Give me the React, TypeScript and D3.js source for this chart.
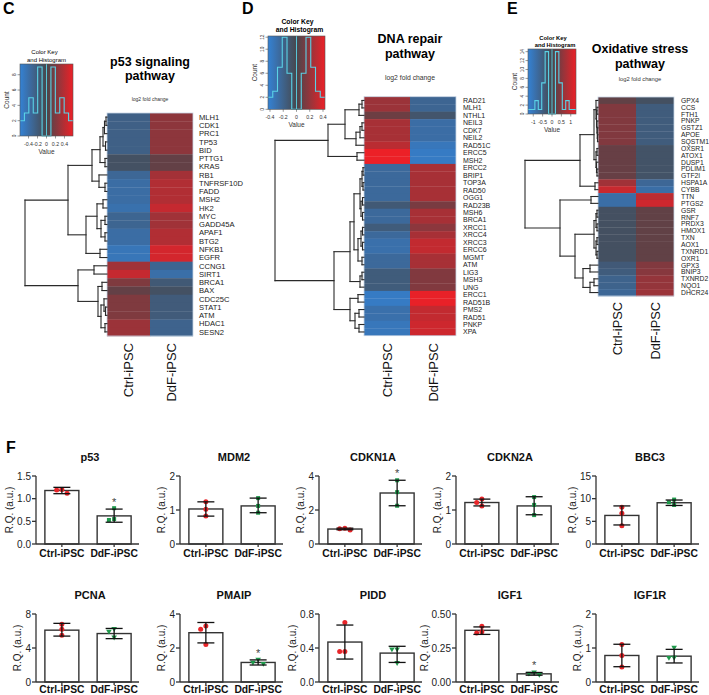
import React from "react";
import * as d3 from "d3";

type Tree = string | [number, Tree, Tree];
const FONT = "'Liberation Sans', Arial, Helvetica, sans-serif";
const BLUE = "#3482d4";
const MID = "#47474c";
const RED = "#ec2027";
const CYAN = "#5ad2e6";

// ---------------- Panel C: p53 signaling ----------------
const genesC = ["MLH1","CDK1","PRC1","TP53","BID","PTTG1","KRAS","RB1","TNFRSF10D","FADD","MSH2","HK2","MYC","GADD45A","APAF1","BTG2","NFKB1","EGFR","CCNG1","SIRT1","BRCA1","BAX","CDC25C","STAT1","ATM","HDAC1","SESN2"];
const ctrlC = [-0.25,-0.25,-0.25,-0.25,-0.25,-0.1,-0.1,-0.32,-0.38,-0.38,-0.38,-0.42,-0.3,-0.3,-0.38,-0.38,-0.47,-0.47,0.32,0.45,0.2,0.1,0.2,0.2,0.2,0.3,0.3];
const ddfC = [0.25,0.25,0.25,0.25,0.25,0.1,0.1,0.33,0.38,0.38,0.38,0.45,0.32,0.32,0.38,0.38,0.5,0.5,-0.3,-0.4,-0.18,-0.1,-0.2,-0.2,-0.2,-0.28,-0.28];
const treeC: Tree = [82,
  [39,
    [15,
      [7, [4, [2.5, [1, "MLH1", "CDK1"], "PRC1"], [1.5, "TP53", "BID"]], [2, "PTTG1", "KRAS"]],
      [8, "RB1", [2, "TNFRSF10D", "FADD"]]],
    [21,
      [10, [4, "MSH2", "HK2"], [6, [2, "MYC", "GADD45A"], [2, "APAF1", "BTG2"]]],
      [7, "NFKB1", "EGFR"]]],
  [29,
    [13, "CCNG1", "SIRT1"],
    [9, [5, "BRCA1", "BAX"], [6, [3, "CDC25C", [1.5, "STAT1", "ATM"]], [2, "HDAC1", "SESN2"]]]]];
const histC = [2,3,5,3,9,0,0,9,3,5,3,2];
const keyDomC = [-0.59, 0.59];
const keyTicksC = [-0.4,-0.2,0,0.2,0.4];
const countTicksC = [0,2,4,6,8];
const countMaxC = 9.4;

// ---------------- Panel D: DNA repair ----------------
const genesD = ["RAD21","MLH1","NTHL1","NEIL3","CDK7","NEIL2","RAD51C","ERCC5","MSH2","ERCC2","BRIP1","TOP3A","RAD50","OGG1","RAD23B","MSH6","BRCA1","XRCC1","XRCC4","XRCC3","ERCC6","MGMT","ATM","LIG3","MSH3","UNG","ERCC1","RAD51B","PMS2","RAD51","PNKP","XPA"];
const ctrlD = [0.22,0.22,0.1,0.25,0.25,0.25,0.3,0.43,0.43,-0.25,-0.25,-0.25,-0.25,-0.25,-0.13,-0.25,-0.25,-0.15,-0.25,-0.3,-0.3,-0.25,-0.25,-0.15,-0.15,-0.15,-0.38,-0.38,-0.3,-0.3,-0.35,-0.35];
const ddfD = [-0.22,-0.22,-0.1,-0.28,-0.28,-0.28,-0.35,-0.38,-0.38,0.25,0.25,0.25,0.25,0.25,0.13,0.25,0.25,0.18,0.25,0.32,0.32,0.25,0.25,0.15,0.15,0.15,0.42,0.42,0.32,0.32,0.35,0.35];
const treeD: Tree = [89,
  [36,
    [19, [5, [2, "RAD21", "MLH1"], "NTHL1"], [8, [4, [2, "NEIL3", "CDK7"], "NEIL2"], "RAD51C"]],
    [7, "ERCC5", "MSH2"]],
  [30,
    [14,
      [10,
        [4, [2, [1, "ERCC2", "BRIP1"], [1, "TOP3A", "RAD50"]], [3, [1.5, "OGG1", "RAD23B"], [1.5, "MSH6", "BRCA1"]]],
        [6, [3, [1.5, "XRCC1", "XRCC4"], [1.5, "XRCC3", "ERCC6"]], [2, "MGMT", "ATM"]]],
      [4, [2, "LIG3", "MSH3"], "UNG"]],
    [14,
      [6, "ERCC1", "RAD51B"],
      [9, [5, "PMS2", "RAD51"], [5, "PNKP", "XPA"]]]]];
const histD = [2,3,7,12,6,0,0,6,12,7,3,2];
const keyDomD = [-0.43, 0.43];
const keyTicksD = [-0.4,-0.2,0,0.2,0.4];
const countTicksD = [0,2,4,6,8,10,12];
const countMaxD = 12.2;

// ---------------- Panel E: Oxidative stress ----------------
const genesE = ["GPX4","CCS","FTH1","PNKP","GSTZ1","APOE","SQSTM1","OXSR1","ATOX1","DUSP1","PDLIM1","GTF2I","HSPA1A","CYBB","TTN","PTGS2","GSR","RNF7","PRDX3","HMOX1","TXN","AOX1","TXNRD1","OXR1","GPX3","BNIP3","TXNRD2","NQO1","DHCR24"];
const ctrlE = [0.2,0.45,0.45,0.45,0.45,0.45,0.45,0.25,0.25,0.25,0.25,0.25,0.7,1.0,-0.85,-0.85,-0.2,-0.2,-0.2,-0.2,-0.2,-0.2,-0.2,-0.2,-0.4,-0.45,-0.6,-0.6,-0.7];
const ddfE = [-0.2,-0.45,-0.45,-0.45,-0.45,-0.45,-0.45,-0.25,-0.25,-0.25,-0.25,-0.25,-0.7,-0.85,0.9,1.05,0.2,0.2,0.2,0.2,0.2,0.2,0.2,0.2,0.45,0.5,0.6,0.6,0.65];
const treeE: Tree = [73,
  [18,
    [4, [2, "GPX4", [1.5, [1, "CCS", "FTH1"], [1, "PNKP", [0.7, "GSTZ1", [0.5, "APOE", "SQSTM1"]]]]],
        [2, [1, "OXSR1", "ATOX1"], [1.5, "DUSP1", [1, "PDLIM1", "GTF2I"]]]],
    [3, "HSPA1A", "CYBB"]],
  [38,
    [7, "TTN", "PTGS2"],
    [23,
      [4, [2, [1, "GSR", "RNF7"], [1, "PRDX3", "HMOX1"]], [2, [1, "TXN", "AOX1"], [1, "TXNRD1", "OXR1"]]],
      [15, [8, "GPX3", "BNIP3"], [8, [4, "TXNRD2", "NQO1"], "DHCR24"]]]]];
const histE = [1,1,3,1,7,14,0,0,14,7,1,3,1,1];
const keyDomE = [-1.28, 1.28];
const keyTicksE = [-1,-0.5,0,0.5,1];
const countTicksE = [0,2,4,6,8,10,12,14];
const countMaxE = 14.6;

const sampleNames = ["Ctrl-iPSC", "DdF-iPSC"];

// ---------------- Panel F: qPCR bars ----------------
const barGenes = ["p53","MDM2","CDKN1A","CDKN2A","BBC3","PCNA","PMAIP","PIDD","IGF1","IGF1R"];
const ctrlMean = [1.18,1.03,0.88,1.22,6.3,6.1,2.9,0.47,0.38,0.78];
const ctrlLo = [1.11,0.82,0.84,1.12,4.2,5.4,2.3,0.27,0.35,0.45];
const ctrlHi = [1.25,1.24,0.93,1.32,8.4,6.9,3.5,0.67,0.405,1.11];
const ddfMean = [0.62,1.12,3.0,1.12,9.1,5.7,1.15,0.34,0.06,0.76];
const ddfLo = [0.48,0.92,2.25,0.86,8.5,5.1,1.0,0.23,0.05,0.56];
const ddfHi = [0.77,1.35,3.75,1.39,9.7,6.3,1.3,0.42,0.07,0.96];
const ctrlPts = [[1.12,1.2,1.19],[0.82,1.02,1.24],[0.83,0.9,0.93],[1.12,1.22,1.32],[4.0,6.8,8.1],[5.5,6.2,6.8],[2.2,3.1,3.3],[0.36,0.36,0.7],[0.36,0.37,0.41],[0.44,0.78,1.1]];
const ddfPts = [[0.53,0.55,0.79],[0.92,1.12,1.35],[2.25,3.05,3.75],[0.85,1.15,1.38],[8.6,9.2,9.8],[5.2,5.9,6.2],[1.05,1.12,1.3],[0.22,0.38,0.38],[0.05,0.06,0.068],[0.7,0.71,1.0]];
const yMax = [1.5,2,4,2,15,8,4,0.8,0.5,2];
const yTicks = [[0,0.5,1,1.5],[0,1,2],[0,2,4],[0,1,2],[0,5,10,15],[0,4,8],[0,2,4],[0,0.4,0.8],[0,0.25,0.5],[0,1,2]];
const yDigits = [1,0,0,0,0,0,0,1,2,0];
const signif = [true,false,true,false,false,false,true,false,true,false];

type HeatCfg = {
  letter: string; letterX: number;
  key: { x: number; y: number; w: number; h: number };
  keyTitleY: [number, number]; keyTitleBold: boolean; keyTitleSize: number; keyTitleDx: number;
  title: [string, string]; titleX: number; titleY: [number, number];
  subY: number; subSize: number;
  hm: { x: number; y: number; w: number; h: number };
  labelX: number; labelSize: number; rootX: number; colLabelY: number; colLabelSize: number;
};

function HeatPanel(props: {
  cfg: HeatCfg; genes: string[]; ctrl: number[]; ddf: number[]; tree: Tree;
  hist: number[]; keyDom: number[]; keyTicks: number[]; countTicks: number[]; countMax: number;
}) {
  const { cfg, genes, ctrl, ddf, tree, hist, keyDom, keyTicks, countTicks, countMax } = props;
  const m = keyDom[1];
  const color = d3.scaleLinear<string>().domain([-m, 0, m]).range([BLUE, MID, RED]).clamp(true);
  const { hm, key } = cfg;
  const yBand = d3.scaleBand<string>().domain(genes).range([hm.y, hm.y + hm.h]);
  const xBand = d3.scaleBand<string>().domain(sampleNames).range([hm.x, hm.x + hm.w]);
  const rootH = typeof tree === "string" ? 1 : tree[0];
  const hx = d3.scaleLinear().domain([0, rootH]).range([hm.x, cfg.rootX]);
  const segs: [number, number, number, number][] = [];
  const walk = (t: Tree): { y: number; h: number } => {
    if (typeof t === "string") return { y: (yBand(t) as number) + yBand.bandwidth() / 2, h: 0 };
    const a = walk(t[1]);
    const b = walk(t[2]);
    const x = hx(t[0]);
    segs.push([x, a.y, x, b.y]);
    segs.push([x, a.y, hx(a.h), a.y]);
    segs.push([x, b.y, hx(b.h), b.y]);
    return { y: (a.y + b.y) / 2, h: t[0] };
  };
  walk(tree);

  const kx = d3.scaleLinear().domain(keyDom).range([key.x, key.x + key.w]);
  const ky = d3.scaleLinear().domain([0, countMax]).range([key.y + key.h, key.y]);
  const bw = (keyDom[1] - keyDom[0]) / hist.length;
  let hp = "";
  hist.forEach((c, i) => {
    const x0 = kx(keyDom[0] + i * bw), x1 = kx(keyDom[0] + (i + 1) * bw);
    hp += (i === 0 ? `M${x0},${ky(c)}` : `V${ky(c)}`) + `H${x1}`;
  });
  const gid = "grad" + cfg.letter;
  const stops = d3.range(0, 1.0001, 0.05);
  return (
    <g fontFamily={FONT}>
      <text x={cfg.letterX} y={14} fontSize={16} fontWeight="bold">{cfg.letter}</text>
      <defs>
        <linearGradient id={gid} x1="0" x2="1" y1="0" y2="0">
          {stops.map((s, i) => (
            <stop key={i} offset={s} stopColor={color(keyDom[0] + s * (keyDom[1] - keyDom[0]))} />
          ))}
        </linearGradient>
      </defs>
      {/* color key */}
      <text x={key.x + key.w / 2 + cfg.keyTitleDx - 2} y={cfg.keyTitleY[0]} fontSize={cfg.keyTitleSize} textAnchor="middle" fontWeight={cfg.keyTitleBold ? "bold" : "normal"}>Color Key</text>
      <text x={key.x + key.w / 2 + cfg.keyTitleDx} y={cfg.keyTitleY[1]} fontSize={cfg.keyTitleSize} textAnchor="middle" fontWeight={cfg.keyTitleBold ? "bold" : "normal"}>and Histogram</text>
      <rect x={key.x} y={key.y} width={key.w} height={key.h} fill={`url(#${gid})`} />
      <path d={hp} fill="none" stroke={CYAN} strokeWidth={1.1} />
      <line x1={kx(0)} x2={kx(0)} y1={key.y} y2={key.y + key.h} stroke={CYAN} strokeWidth={0.9} />
      <rect x={key.x} y={key.y} width={key.w} height={key.h} fill="none" stroke="#555" strokeWidth={0.6} />
      {countTicks.map((c) => (
        <g key={c}>
          <line x1={key.x} x2={key.x - 2.5} y1={ky(c)} y2={ky(c)} stroke="#333" strokeWidth={0.5} />
          <text transform={`translate(${key.x - 4.5},${ky(c)}) rotate(-90)`} fontSize={4.8} textAnchor="middle" fill="#333">{c}</text>
        </g>
      ))}
      <text transform={`translate(${key.x - 11.5},${key.y + key.h / 2}) rotate(-90)`} fontSize={6.5} textAnchor="middle" fill="#333">Count</text>
      {keyTicks.map((v) => (
        <g key={v}>
          <line x1={kx(v)} x2={kx(v)} y1={key.y + key.h} y2={key.y + key.h + 2.5} stroke="#333" strokeWidth={0.5} />
          <text x={kx(v)} y={key.y + key.h + 9.5} fontSize={5.2} textAnchor="middle" fill="#333">{v}</text>
        </g>
      ))}
      <text x={key.x + key.w / 2} y={key.y + key.h + 18} fontSize={6.5} textAnchor="middle" fill="#333">Value</text>
      {/* title */}
      <text x={cfg.titleX} y={cfg.titleY[0]} fontSize={12.5} fontWeight="bold" textAnchor="middle">{cfg.title[0]}</text>
      <text x={cfg.titleX} y={cfg.titleY[1]} fontSize={12.5} fontWeight="bold" textAnchor="middle">{cfg.title[1]}</text>
      <text x={cfg.titleX} y={cfg.subY} fontSize={cfg.subSize} textAnchor="middle" fill="#333">log2 fold change</text>
      {/* heatmap */}
      {genes.map((g, i) => (
        <g key={g}>
          <rect x={xBand(sampleNames[0])} y={yBand(g)} width={xBand.bandwidth() + 0.3} height={yBand.bandwidth() + 0.3} fill={color(ctrl[i])} />
          <rect x={xBand(sampleNames[1])} y={yBand(g)} width={xBand.bandwidth()} height={yBand.bandwidth() + 0.3} fill={color(ddf[i])} />
          <text x={cfg.labelX} y={(yBand(g) as number) + yBand.bandwidth() / 2} dy="0.36em" fontSize={cfg.labelSize} fill="#222">{g}</text>
        </g>
      ))}
      <rect x={hm.x} y={hm.y} width={hm.w} height={hm.h} fill="none" stroke="#c9d6e6" strokeWidth={0.8} />
      {segs.map((s, i) => (
        <line key={i} x1={s[0]} y1={s[1]} x2={s[2]} y2={s[3]} stroke="#2a2a2a" strokeWidth={1.1} strokeLinecap="square" />
      ))}
      {sampleNames.map((s) => (
        <text key={s} transform={`translate(${(xBand(s) as number) + xBand.bandwidth() / 2 + cfg.colLabelSize * 0.36},${cfg.colLabelY}) rotate(-90)`} fontSize={cfg.colLabelSize} textAnchor="end" fill="#111">{s}</text>
      ))}
    </g>
  );
}

const cfgC: HeatCfg = {
  letter: "C", letterX: 3, key: { x: 20, y: 64, w: 53, h: 72 },
  keyTitleY: [54, 62], keyTitleBold: false, keyTitleSize: 6, keyTitleDx: 0,
  title: ["p53 signaling", "pathway"], titleX: 150, titleY: [66, 80], subY: 101, subSize: 5,
  hm: { x: 107, y: 113, w: 86, h: 223 }, labelX: 199, labelSize: 7.6, rootX: 25, colLabelY: 343, colLabelSize: 13,
};
const cfgD: HeatCfg = {
  letter: "D", letterX: 242, key: { x: 268, y: 36, w: 57, h: 73.3 },
  keyTitleY: [24, 32], keyTitleBold: true, keyTitleSize: 6.8, keyTitleDx: 3,
  title: ["DNA repair", "pathway"], titleX: 410, titleY: [43, 58], subY: 80, subSize: 6.8,
  hm: { x: 364, y: 96.7, w: 92, h: 239 }, labelX: 463, labelSize: 7, rootX: 275, colLabelY: 343, colLabelSize: 13,
};
const cfgE: HeatCfg = {
  letter: "E", letterX: 507, key: { x: 528, y: 49, w: 48, h: 65 },
  keyTitleY: [40, 47], keyTitleBold: true, keyTitleSize: 5.8, keyTitleDx: 3,
  title: ["Oxidative stress", "pathway"], titleX: 640, titleY: [53, 68], subY: 81, subSize: 5.8,
  hm: { x: 598, y: 97, w: 76, h: 199 }, labelX: 681, labelSize: 6.8, rootX: 525, colLabelY: 302, colLabelSize: 12.8,
};

const colAxisX = [36, 180, 319, 456, 596];
const rowTop = [476, 614];
const rowBottom = [544, 682];
const rowLabelDy = [13, 10.5];

function beeswarm(ys: number[], minD: number, step: number): number[] {
  const idx = ys.map((_, i) => i).sort((a, b) => ys[a] - ys[b]);
  const placed: { x: number; y: number }[] = [];
  const out = new Array(ys.length).fill(0);
  const cands = [0, -step, step, -2 * step, 2 * step];
  idx.forEach((i) => {
    for (const c of cands) {
      if (placed.every((p) => Math.hypot(p.x - c, p.y - ys[i]) >= minD)) {
        out[i] = c; placed.push({ x: c, y: ys[i] }); return;
      }
    }
    out[i] = 0; placed.push({ x: 0, y: ys[i] });
  });
  return out;
}

function BarPanel({ i }: { i: number }) {
  const row = Math.floor(i / 5), col = i % 5;
  const ax = colAxisX[col];
  const top = rowTop[row], bottom = rowBottom[row];
  const x = d3.scaleBand<string>().domain(sampleNames).range([ax, ax + 104]).paddingInner(0.35).paddingOuter(0.17);
  const y = d3.scaleLinear().domain([0, yMax[i]]).range([bottom, top]);
  const means = [ctrlMean[i], ddfMean[i]];
  const los = [ctrlLo[i], ddfLo[i]];
  const his = [ctrlHi[i], ddfHi[i]];
  const pts = [ctrlPts[i], ddfPts[i]];
  const fmt = d3.format(`.${yDigits[i]}f`);
  const tickW = d3.max(yTicks[i].map((t) => fmt(t).length * 5.3 - (fmt(t).includes(".") ? 2.6 : 0))) as number;
  const bw = x.bandwidth();
  return (
    <g fontFamily={FONT}>
      <text x={ax + 54} y={top - 15} fontSize={11} fontWeight="bold" textAnchor="middle" fill="#111">{barGenes[i]}</text>
      {sampleNames.map((s, k) => {
        const cx = (x(s) as number) + bw / 2;
        const offs = beeswarm(pts[k].map((v) => y(v)), 4.6, 5.2);
        return (
          <g key={s}>
            <rect x={x(s)} y={y(means[k])} width={bw} height={bottom - y(means[k])} fill="#fff" stroke="#333" strokeWidth={1.4} />
            {pts[k].map((v, j) => (
              k === 0 ? (
                <circle key={j} cx={cx + offs[j]} cy={y(v)} r={2.5} fill="#e8262a" />
              ) : row === 0 ? (
                <rect key={j} x={cx + offs[j] - 2} y={y(v) - 2} width={4} height={4} fill="#1f9a4c" />
              ) : (
                <path key={j} d={`M${cx + offs[j] - 2.8},${y(v) - 2.2}H${cx + offs[j] + 2.8}L${cx + offs[j]},${y(v) + 2.6}Z`} fill="#1f9a4c" />
              )
            ))}
            <line x1={cx} x2={cx} y1={y(los[k])} y2={y(his[k])} stroke="#111" strokeWidth={1.3} />
            <line x1={cx - 8.5} x2={cx + 8.5} y1={y(los[k])} y2={y(los[k])} stroke="#111" strokeWidth={1.3} />
            <line x1={cx - 8.5} x2={cx + 8.5} y1={y(his[k])} y2={y(his[k])} stroke="#111" strokeWidth={1.3} />
            <line x1={cx} x2={cx} y1={bottom} y2={bottom + 3} stroke="#333" strokeWidth={1.3} />
            <text x={cx} y={bottom + rowLabelDy[row]} fontSize={10.3} fontWeight="bold" textAnchor="middle" fill="#111">{s}</text>
            {k === 1 && signif[i] ? (
              <text x={cx} y={y(his[k]) - 3} fontSize={11} textAnchor="middle" fill="#444">*</text>
            ) : null}
          </g>
        );
      })}
      <line x1={ax} x2={ax} y1={top} y2={bottom} stroke="#333" strokeWidth={1.3} />
      <line x1={ax} x2={ax + 103} y1={bottom} y2={bottom} stroke="#333" strokeWidth={1.3} />
      {yTicks[i].map((t) => (
        <g key={t}>
          <line x1={ax} x2={ax - 4} y1={y(t)} y2={y(t)} stroke="#333" strokeWidth={1.3} />
          <text x={ax - 5} y={y(t)} dy="0.36em" fontSize={10} textAnchor="end" fill="#222">{fmt(t)}</text>
        </g>
      ))}
      <text transform={`translate(${ax - tickW - 9.5},${(top + bottom) / 2}) rotate(-90)`} fontSize={10} textAnchor="middle" fill="#222">R.Q. (a.u.)</text>
    </g>
  );
}

export default function App() {
  return (
    <svg width={709} height={695} style={{ position: "absolute", left: 0, top: 0, background: "#fff" }}>
      <rect width={709} height={695} fill="#fff" />
      <HeatPanel cfg={cfgC} genes={genesC} ctrl={ctrlC} ddf={ddfC} tree={treeC} hist={histC} keyDom={keyDomC} keyTicks={keyTicksC} countTicks={countTicksC} countMax={countMaxC} />
      <HeatPanel cfg={cfgD} genes={genesD} ctrl={ctrlD} ddf={ddfD} tree={treeD} hist={histD} keyDom={keyDomD} keyTicks={keyTicksD} countTicks={countTicksD} countMax={countMaxD} />
      <HeatPanel cfg={cfgE} genes={genesE} ctrl={ctrlE} ddf={ddfE} tree={treeE} hist={histE} keyDom={keyDomE} keyTicks={keyTicksE} countTicks={countTicksE} countMax={countMaxE} />
      <text x={6} y={453} fontSize={16} fontWeight="bold" fontFamily={FONT}>F</text>
      {barGenes.map((_, i) => <BarPanel key={i} i={i} />)}
    </svg>
  );
}
